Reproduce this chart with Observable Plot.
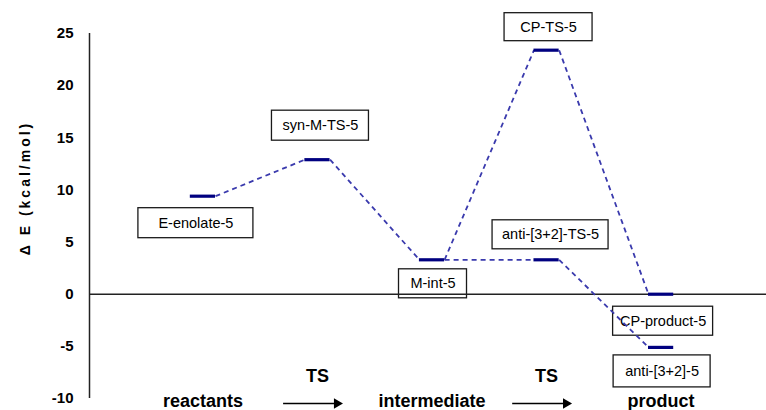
<!DOCTYPE html>
<html><head><meta charset="utf-8">
<script src="https://cdn.jsdelivr.net/npm/d3@7"></script>
<script src="https://cdn.jsdelivr.net/npm/@observablehq/plot@0.6"></script>
<style>body{margin:0;background:#fff;}</style>
</head><body><div id="chart"></div>
<script>
// ---- data ----
const states = ["E-enolate-5", "syn-M-TS-5", "M-int-5", "CP-TS-5", "anti-[3+2]-TS-5", "CP-product-5", "anti-[3+2]-5"];
const stateStage = [1, 2, 3, 4, 4, 5, 5];
const stateEnergy = [9.4, 12.9, 3.3, 23.4, 3.3, 0.0, -5.1];
const links = [[0, 1], [1, 2], [2, 3], [2, 4], [3, 5], [4, 6]];
const stagePos = [1, 2, 3, 4, 5];
const stageLabels = ["reactants", "TS", "intermediate", "TS", "product"];
const yTicks = [-10, -5, 0, 5, 10, 15, 20, 25];

// ---- label layout (pixel offsets / box sizes) ----
const labelLayout = [
  {dx: -7, dy: 27, w: 115, h: 30},
  {dx: 3, dy: -34, w: 97, h: 30},
  {dx: 1, dy: 24, w: 68, h: 29},
  {dx: 2, dy: -23, w: 88, h: 28},
  {dx: 4, dy: -25, w: 116, h: 29},
  {dx: 2, dy: 27, w: 100, h: 29},
  {dx: 1, dy: 24, w: 97, h: 32}
];

const HW = 0.11; // half width of a level bar in stage units
const rows = states.map((name, i) => ({name, stage: stateStage[i], energy: stateEnergy[i], ...labelLayout[i]}));
const linkRows = links.map(([a, b]) => ({
  x1: rows[a].stage + HW, y1: rows[a].energy,
  x2: rows[b].stage - HW, y2: rows[b].energy
}));
const stages = stagePos.map((x, i) => ({x, label: stageLabels[i]}));
const tsStages = stages.filter(d => d.label === "TS");
const xDomain = [0.01, 5.92];

const marks = [];
// boxes + label text
rows.forEach(r => {
  marks.push(Plot.rect([r], {
    x1: "stage", x2: "stage", y1: "energy", y2: "energy",
    insetLeft: -r.w / 2, insetRight: -r.w / 2, insetTop: -r.h / 2, insetBottom: -r.h / 2,
    dx: r.dx, dy: r.dy, fill: "white", stroke: "#1a1a1a", strokeWidth: 1.3
  }));
  marks.push(Plot.text([r], {
    x: "stage", y: "energy", text: "name", dx: r.dx, dy: r.dy,
    fontSize: 14.5, fill: "#000"
  }));
});
// zero line and y axis line
marks.push(Plot.ruleY([0], {stroke: "#222", strokeWidth: 1.5}));
marks.push(Plot.ruleX([xDomain[0]], {y1: yTicks[0], y2: yTicks[yTicks.length - 1], stroke: "#222", strokeWidth: 1.5}));
// connectors
marks.push(Plot.link(linkRows, {x1: "x1", y1: "y1", x2: "x2", y2: "y2", stroke: "#3a3aad", strokeWidth: 1.8, strokeDasharray: "5,4"}));
// levels
marks.push(Plot.ruleY(rows, {y: "energy", x1: d => d.stage - HW, x2: d => d.stage + HW, stroke: "#000080", strokeWidth: 3.2}));
// y axis ticks
marks.push(Plot.axisY({ticks: yTicks, tickSize: 0, tickPadding: 16, fontSize: 15, fontWeight: "bold", label: null, tickFormat: d => String(d)}));
// y title
marks.push(Plot.text(["Δ E (kcal/mol)"], {frameAnchor: "left", textAnchor: "middle", dx: -64, dy: -28, rotate: -90, fontSize: 14, fontWeight: "bold", fill: "#000"}));
// bottom stage labels
marks.push(Plot.text(stages.filter(d => d.label !== "TS"), {x: "x", text: "label", frameAnchor: "bottom", dy: 3, fontSize: 18, fontWeight: "bold", fill: "#000", lineAnchor: "middle"}));
marks.push(Plot.text(tsStages, {x: "x", text: "label", frameAnchor: "bottom", dy: -22, fontSize: 18, fontWeight: "bold", fill: "#000", lineAnchor: "middle"}));
// arrows under TS
marks.push(Plot.link(tsStages, {x1: d => d.x - 0.3, x2: d => d.x + 0.17, y1: yTicks[0], y2: yTicks[0], dy: 5, stroke: "#000", strokeWidth: 1.3}));
marks.push(Plot.dot(tsStages, {x: d => d.x + 0.17, y: yTicks[0], dy: 5, symbol: "triangle2", rotate: 90, r: 5, fill: "#000", stroke: "none"}));

const chart = Plot.plot({
  width: 766, height: 410,
  marginLeft: 89, marginRight: 0, marginTop: 33, marginBottom: 12,
  x: {domain: xDomain, axis: null},
  y: {domain: [-10, 25], axis: null},
  style: {fontFamily: "'Liberation Sans', Arial, sans-serif", background: "white", overflow: "visible"},
  marks
});
document.getElementById("chart").appendChild(chart);
d3.select(chart).selectAll("text").filter(function() { return this.textContent === "Δ E (kcal/mol)"; })
  .attr("letter-spacing", "3px");
</script>
</body></html>
